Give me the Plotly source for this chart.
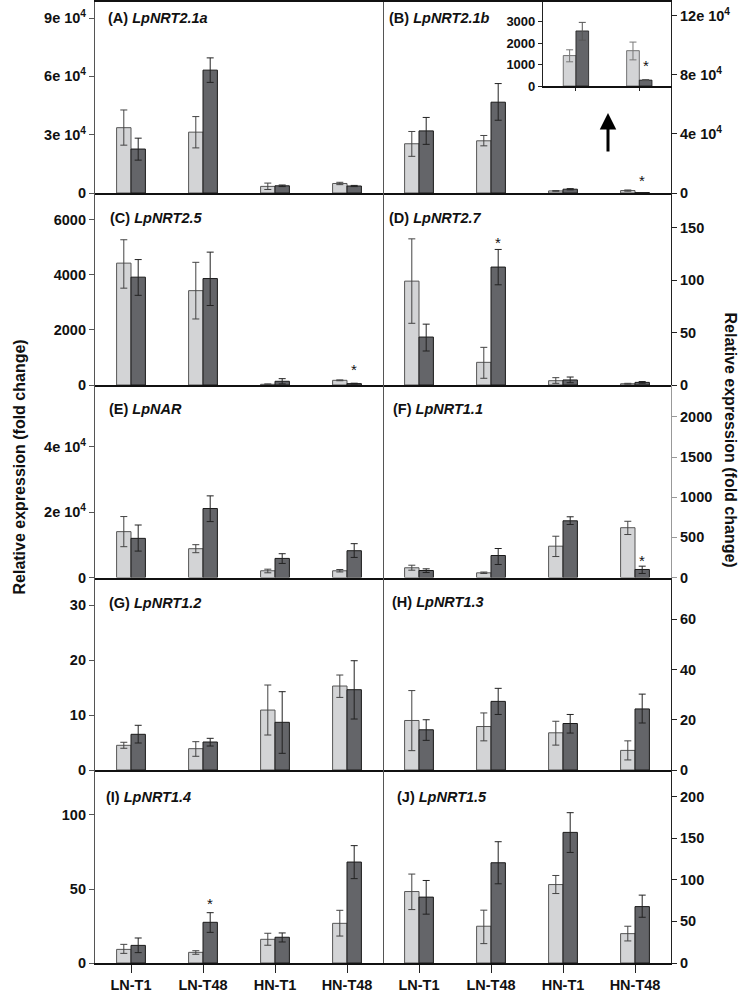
import plotly.graph_objects as go

# ---------------- data ----------------
categories = ["LN-T1", "LN-T48", "HN-T1", "HN-T48"]

# (A) LpNRT2.1a
a_light = [33600, 31300, 3400, 4900]
a_light_hi = [42700, 39300, 5100, 5500]
a_light_lo = [24600, 23200, 1800, 4300]
a_dark = [22600, 63200, 3700, 3600]
a_dark_hi = [28200, 69500, 4100, 3900]
a_dark_lo = [16900, 56900, 3300, 3300]

# (B) LpNRT2.1b
b_light = [33300, 35300, 1420, 1650]
b_light_hi = [41600, 38900, 1690, 2050]
b_light_lo = [24800, 31900, 1130, 1220]
b_dark = [42000, 61400, 2570, 275]
b_dark_hi = [51100, 74000, 2970, 300]
b_dark_lo = [32900, 49200, 2140, 250]

# (C) LpNRT2.5
c_light = [4430, 3430, 25, 170]
c_light_hi = [5280, 4460, 40, 185]
c_light_lo = [3520, 2400, 10, 155]
c_dark = [3920, 3870, 135, 50]
c_dark_hi = [4560, 4830, 230, 65]
c_dark_lo = [3260, 2890, 40, 35]

# (D) LpNRT2.7
d_light = [99, 21.6, 4.1, 1.2]
d_light_hi = [139.3, 35.9, 7.0, 1.6]
d_light_lo = [58.8, 6.4, 1.6, 0.8]
d_dark = [45.7, 112.4, 4.8, 2.5]
d_dark_hi = [58.0, 129.2, 7.6, 3.3]
d_dark_lo = [32.4, 95.5, 2.2, 1.7]

# (E) LpNAR
e_light = [14060, 8830, 2060, 2060]
e_light_hi = [18680, 10060, 2550, 2450]
e_light_lo = [9440, 7600, 1440, 1700]
e_dark = [12000, 21140, 5850, 8210]
e_dark_hi = [16090, 25020, 7290, 10370]
e_dark_lo = [8090, 17140, 4310, 6150]

# (F) LpNRT1.1
f_light = [121, 58, 390, 620]
f_light_hi = [153, 68, 514, 700]
f_light_lo = [91, 50, 261, 535]
f_dark = [87, 274, 706, 100]
f_dark_hi = [108, 361, 756, 141]
f_dark_lo = [62, 162, 660, 50]

# (G) LpNRT1.2
g_light = [4.49, 3.88, 10.9, 15.27]
g_light_hi = [5.04, 5.15, 15.45, 17.27]
g_light_lo = [3.95, 2.49, 6.36, 13.2]
g_dark = [6.49, 5.09, 8.67, 14.6]
g_dark_hi = [8.13, 5.76, 14.24, 19.87]
g_dark_lo = [4.91, 4.36, 3.03, 9.27]

# (H) LpNRT1.3
h_light = [19.7, 17.3, 14.8, 7.8]
h_light_hi = [31.6, 22.7, 19.4, 11.6]
h_light_lo = [7.7, 11.6, 9.9, 4.0]
h_dark = [16.0, 27.3, 18.5, 24.3]
h_dark_hi = [20.0, 32.5, 22.1, 30.2]
h_dark_lo = [11.8, 22.1, 14.7, 18.7]

# (I) LpNRT1.4
i_light = [9.2, 7.2, 16.0, 26.8]
i_light_hi = [12.6, 8.3, 20.1, 35.6]
i_light_lo = [6.5, 5.9, 12.0, 18.2]
i_dark = [11.9, 27.5, 17.4, 68.2]
i_dark_hi = [16.9, 34.0, 20.3, 79.3]
i_dark_lo = [7.0, 20.7, 14.2, 57.0]

# (J) LpNRT1.5
j_light = [85.9, 44.2, 94.3, 35.3]
j_light_hi = [106.9, 63.5, 105.2, 44.2]
j_light_lo = [64.2, 23.3, 83.5, 26.5]
j_dark = [79.2, 120.5, 157, 67.8]
j_dark_hi = [99.2, 145.8, 180.7, 81.6]
j_dark_lo = [58.7, 95.2, 132.9, 55.0]

panel_letters = ["A", "B", "C", "D", "E", "F", "G", "H", "I", "J"]
gene_names = ["LpNRT2.1a", "LpNRT2.1b", "LpNRT2.5", "LpNRT2.7", "LpNAR",
              "LpNRT1.1", "LpNRT1.2", "LpNRT1.3", "LpNRT1.4", "LpNRT1.5"]

# y axis tick values for each panel
ticks_a = [0, 30000, 60000, 90000]
ticks_b = [0, 40000, 80000, 120000]
ticks_c = [0, 2000, 4000, 6000]
ticks_d = [0, 50, 100, 150]
ticks_e = [0, 20000, 40000]
ticks_f = [0, 500, 1000, 1500, 2000]
ticks_g = [0, 10, 20, 30]
ticks_h = [0, 20, 40, 60]
ticks_i = [0, 50, 100]
ticks_j = [0, 50, 100, 150, 200]

# inset of (B): HN treatments
inset_categories = ["HN-T1", "HN-T48"]
inset_ticks = [0, 1000, 2000, 3000]

# significance marks: (panel index, category)
stars = [(1, "HN-T48"), (2, "HN-T48"), (3, "LN-T48"), (5, "HN-T48"), (8, "LN-T48")]
star_shift = [15, 17, 10, 9, 12]

# ---------------- layout geometry ----------------
W, H = 750, 992
col_x = [(95, 383), (383, 671)]
row_top = [1.5, 193, 385, 577.5, 770]
row_bot = [193, 385, 577.5, 770, 963]
y_tops = [98500, 129500, 6980, 183, 59000, 2397, 35, 76.6, 130.4, 232]

LIGHT = "#d3d4d6"
DARK = "#646569"
FONT = "Liberation Sans, Arial, sans-serif"

data_sets = [
    (a_light, a_light_hi, a_light_lo, a_dark, a_dark_hi, a_dark_lo, ticks_a),
    (b_light, b_light_hi, b_light_lo, b_dark, b_dark_hi, b_dark_lo, ticks_b),
    (c_light, c_light_hi, c_light_lo, c_dark, c_dark_hi, c_dark_lo, ticks_c),
    (d_light, d_light_hi, d_light_lo, d_dark, d_dark_hi, d_dark_lo, ticks_d),
    (e_light, e_light_hi, e_light_lo, e_dark, e_dark_hi, e_dark_lo, ticks_e),
    (f_light, f_light_hi, f_light_lo, f_dark, f_dark_hi, f_dark_lo, ticks_f),
    (g_light, g_light_hi, g_light_lo, g_dark, g_dark_hi, g_dark_lo, ticks_g),
    (h_light, h_light_hi, h_light_lo, h_dark, h_dark_hi, h_dark_lo, ticks_h),
    (i_light, i_light_hi, i_light_lo, i_dark, i_dark_hi, i_dark_lo, ticks_i),
    (j_light, j_light_hi, j_light_lo, j_dark, j_dark_hi, j_dark_lo, ticks_j),
]


def px_x(p):
    return p / W


def px_y(p):
    return 1 - p / H


def tick_text(v):
    if v >= 10000:
        return f"{int(v // 10000)}e 10<sup>4</sup>"
    return str(v)


def bar_pair(x, light, lhi, llo, dark, dhi, dlo, xa, ya, lw=1, ecol_l="#444", ecol_d="#222"):
    tr = []
    tr.append(go.Bar(
        x=x, y=light, xaxis=xa, yaxis=ya, showlegend=False,
        marker=dict(color=LIGHT, line=dict(color="#555", width=lw)),
        error_y=dict(type="data", symmetric=False,
                     array=[h - m for h, m in zip(lhi, light)],
                     arrayminus=[m - l for m, l in zip(light, llo)],
                     color=ecol_l, thickness=1, width=3.5)))
    tr.append(go.Bar(
        x=x, y=dark, xaxis=xa, yaxis=ya, showlegend=False,
        marker=dict(color=DARK, line=dict(color="#1a1a1a", width=lw)),
        error_y=dict(type="data", symmetric=False,
                     array=[h - m for h, m in zip(dhi, dark)],
                     arrayminus=[m - l for m, l in zip(dark, dlo)],
                     color=ecol_d, thickness=1, width=3.5)))
    return tr


fig = go.Figure()
layout = {}
annotations = []

for idx, (li, lhi, llo, da, dhi, dlo, tks) in enumerate(data_sets):
    n = idx + 1
    row, col = idx // 2, idx % 2
    xa = "x" if n == 1 else f"x{n}"
    ya = "y" if n == 1 else f"y{n}"
    xname = "xaxis" if n == 1 else f"xaxis{n}"
    yname = "yaxis" if n == 1 else f"yaxis{n}"
    for t in bar_pair(categories, li, lhi, llo, da, dhi, dlo, xa, ya):
        fig.add_trace(t)
    x0, x1 = col_x[col]
    bottom_row = row == 4
    layout[xname] = dict(
        domain=[px_x(x0), px_x(x1)], anchor=ya, type="category",
        categoryorder="array", categoryarray=categories,
        range=[-0.5, 3.5], showline=True, linecolor="#111", linewidth=1.5,
        mirror=(row == 0), ticks="outside" if bottom_row else "",
        ticklen=8, tickcolor="#222", tickwidth=1,
        showticklabels=bottom_row, showgrid=False, zeroline=False,
        tickfont=dict(family=FONT, size=14.5, color="#111"), automargin=False)
    right = col == 1
    axcol = "#999" if idx == 5 else ("#222" if right else "#555")
    layout[yname] = dict(
        domain=[px_y(row_bot[row]), px_y(row_top[row])], anchor=xa,
        range=[0, y_tops[idx]], side="right" if right else "left",
        showline=True, linecolor=axcol, linewidth=1.2, mirror=(not right),
        ticks="outside", ticklen=5, tickcolor=axcol, tickwidth=1,
        tickvals=tks, ticktext=[f"<b>{tick_text(v)}</b>" for v in tks],
        showgrid=False, zeroline=False, automargin=False,
        tickfont=dict(family=FONT, size=14.5, color="#111"))
    if bottom_row:
        layout[xname]["ticktext"] = [f"<b>{c}</b>" for c in categories]
        layout[xname]["tickvals"] = categories

# panel labels
label_pos = [(106, 18), (387, 18), (108, 218), (387, 218), (107, 409),
             (391, 409), (107, 603), (390, 602), (104, 797), (395, 797)]
for idx, (lx, ly) in enumerate(label_pos):
    annotations.append(dict(
        xref="paper", yref="paper", x=px_x(lx), y=px_y(ly), xanchor="left",
        yanchor="middle", showarrow=False,
        text=f"<b>({panel_letters[idx]}) <i>{gene_names[idx]}</i></b>",
        font=dict(family=FONT, size=14.5, color="#111")))

# stars
for (pi, cat), sh in zip(stars, star_shift):
    n = pi + 1
    dhi = data_sets[pi][4]
    k = categories.index(cat)
    annotations.append(dict(
        xref=f"x{n}" if n > 1 else "x", yref=f"y{n}" if n > 1 else "y",
        x=k + 0.1, y=dhi[k], text="*", showarrow=False, yanchor="middle",
        yshift=sh - 3, font=dict(family=FONT, size=15, color="#111")))

# inset for (B)
ins_light = b_light[2:]
ins_light_hi = b_light_hi[2:]
ins_light_lo = b_light_lo[2:]
ins_dark = b_dark[2:]
ins_dark_hi = b_dark_hi[2:]
ins_dark_lo = b_dark_lo[2:]
for t in bar_pair(inset_categories, ins_light, ins_light_hi, ins_light_lo,
                  ins_dark, ins_dark_hi, ins_dark_lo, "x11", "y11",
                  lw=0.8, ecol_l="#777", ecol_d="#555"):
    fig.add_trace(t)
layout["xaxis11"] = dict(
    domain=[px_x(543), px_x(671)], anchor="y11", type="category",
    range=[-0.52, 1.5], showline=True, linecolor="#111", linewidth=1.5,
    mirror=True, ticks="outside", ticklen=3, tickcolor="#222",
    showticklabels=False, showgrid=False, zeroline=False)
layout["yaxis11"] = dict(
    domain=[px_y(86), px_y(1.5)], anchor="x11", range=[0, 3945],
    showline=True, linecolor="#222", linewidth=1.2, mirror=True,
    ticks="outside", ticklen=4, tickcolor="#222",
    tickvals=inset_ticks, ticktext=[f"<b>{v}</b>" for v in inset_ticks],
    showgrid=False, zeroline=False, automargin=False,
    tickfont=dict(family=FONT, size=13, color="#111"))
k = inset_categories.index("HN-T48")
annotations.append(dict(
    xref="x11", yref="y11", x=k + 0.1, y=ins_dark_hi[k], text="*",
    showarrow=False, yanchor="middle", yshift=14,
    font=dict(family=FONT, size=15, color="#111")))

# arrow pointing to the inset
annotations.append(dict(
    xref="paper", yref="paper", x=px_x(608), y=px_y(113),
    axref="pixel", ayref="pixel", ax=0, ay=40,
    text="", showarrow=True, arrowhead=2, arrowsize=1.1, arrowwidth=3,
    arrowcolor="#000", standoff=0))

# axis titles
annotations.append(dict(
    xref="paper", yref="paper", x=px_x(9), y=px_y(467), textangle=-90,
    showarrow=False, text="<b>Relative expression (fold change)</b>",
    font=dict(family=FONT, size=16, color="#111")))
annotations.append(dict(
    xref="paper", yref="paper", x=px_x(741), y=px_y(440), textangle=90,
    showarrow=False, text="<b>Relative expression (fold change)</b>",
    font=dict(family=FONT, size=16, color="#111")))

fig.update_layout(
    width=W, height=H, margin=dict(l=0, r=0, t=0, b=0),
    paper_bgcolor="white", plot_bgcolor="white",
    barmode="group", bargap=0.6, bargroupgap=0,
    showlegend=False, annotations=annotations, **layout)

fig.write_html("out.html", config={"displayModeBar": False},
               post_script="document.body.style.margin='0px';")
